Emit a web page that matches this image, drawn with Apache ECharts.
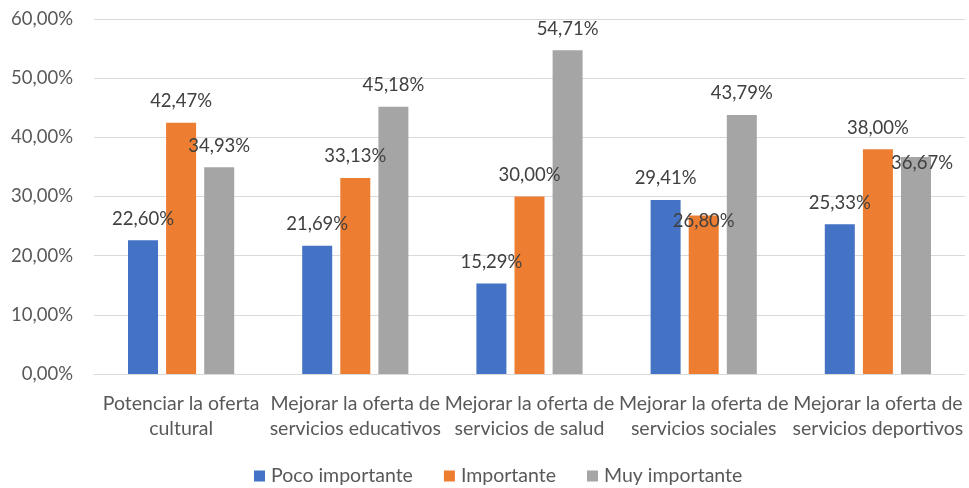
<!DOCTYPE html>
<html>
<head>
<meta charset="utf-8">
<script src="https://cdn.jsdelivr.net/npm/echarts@6/dist/echarts.min.js"></script>
<style>
  html, body { margin: 0; padding: 0; background: #ffffff; }
  #chart { width: 969px; height: 488px; }
</style>
</head>
<body>
<div id="chart"></div>
<script>
// Categories and series values (percent)
const categories = [
  'Potenciar la oferta cultural',
  'Mejorar la oferta de servicios educativos',
  'Mejorar la oferta de servicios de salud',
  'Mejorar la oferta de servicios sociales',
  'Mejorar la oferta de servicios deportivos'
];
const seriesNames = ['Poco importante', 'Importante', 'Muy importante'];
const pocoImportante = [22.60, 21.69, 15.29, 29.41, 25.33];
const importante = [42.47, 33.13, 30.00, 26.80, 38.00];
const muyImportante = [34.93, 45.18, 54.71, 43.79, 36.67];
const yTicks = { min: 0, max: 60, interval: 10 };

const FONT = 'Lato';
const colors = ['#4472C4', '#ED7D31', '#A5A5A5'];

// Hand-placed data labels: [series index, category index] -> [dx, dy]
const movedLabels = {
  '1-3': [0, 27],
  '2-4': [6, 27]
};

function pct(v) {
  return v.toFixed(2).replace('.', ',') + '%';
}

// Greedy word wrap for the category labels
function wrap(text, maxChars) {
  const words = text.split(' ');
  const lines = [];
  let cur = '';
  words.forEach(w => {
    const next = cur ? cur + ' ' + w : w;
    if (next.length > maxChars && cur) {
      lines.push(cur);
      cur = w;
    } else {
      cur = next;
    }
  });
  if (cur) lines.push(cur);
  return lines.join('\n');
}

const chart = echarts.init(document.getElementById('chart'), null, { renderer: 'canvas' });

const dataSets = [pocoImportante, importante, muyImportante];
const series = dataSets.map((d, si) => ({
  name: seriesNames[si],
  type: 'bar',
  data: d.map((v, ci) => {
    const off = movedLabels[si + '-' + ci];
    return off ? { value: v, label: { offset: off } } : v;
  }),
  barWidth: 30,
  barGap: '27%',
  itemStyle: { color: colors[si] },
  label: {
    show: true,
    position: 'top',
    distance: 12,
    formatter: p => pct(p.value),
    fontFamily: FONT,
    fontSize: 18.5,
    color: '#404040'
  }
}));

chart.setOption({
  animation: false,
  textStyle: { fontFamily: FONT },
  grid: { left: 94, right: 4, top: 19, bottom: 114, containLabel: false },
  legend: {
    data: seriesNames,
    left: 254,
    top: 466,
    padding: 0,
    itemWidth: 11,
    itemHeight: 11,
    itemGap: 31,
    icon: 'rect',
    textStyle: { fontFamily: FONT, fontSize: 19.5, color: '#595959', padding: [0, 0, 0, 1] }
  },
  xAxis: {
    type: 'category',
    data: categories,
    axisLine: { lineStyle: { color: '#D9D9D9', width: 1 } },
    axisTick: { show: false },
    axisLabel: {
      interval: 0,
      margin: 17,
      fontFamily: FONT,
      fontSize: 19.5,
      lineHeight: 25,
      color: '#595959',
      formatter: v => wrap(v, 20)
    }
  },
  yAxis: {
    type: 'value',
    min: yTicks.min,
    max: yTicks.max,
    interval: yTicks.interval,
    axisLine: { show: false },
    axisTick: { show: false },
    splitLine: { lineStyle: { color: '#D9D9D9', width: 1 } },
    axisLabel: {
      margin: 21,
      fontFamily: FONT,
      fontSize: 18.5,
      color: '#595959',
      formatter: v => pct(v)
    }
  },
  series: series
});
</script>
</body>
</html>
